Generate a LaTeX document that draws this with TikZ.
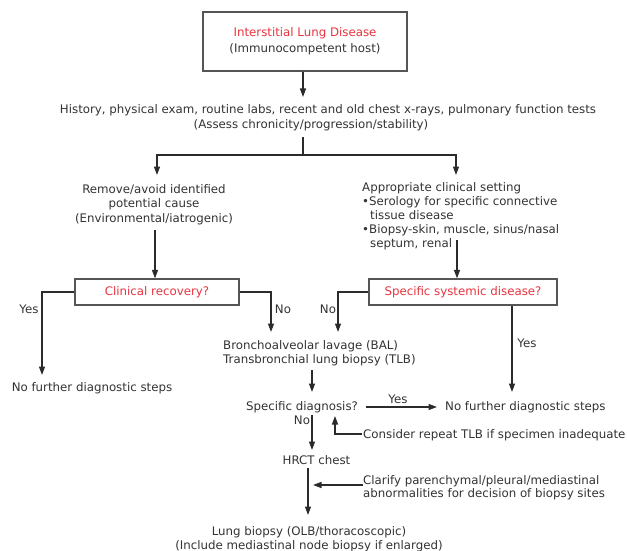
\documentclass[tikz,border=0pt]{standalone}
\usepackage{fontspec}
\setmainfont{DejaVu Sans}
\usetikzlibrary{arrows.meta}
\definecolor{redt}{HTML}{E8343F}
\definecolor{txtc}{HTML}{333333}
\definecolor{lnc}{HTML}{2B2B2B}
\definecolor{bxc}{HTML}{555555}
\begin{document}
\begin{tikzpicture}[x=1pt,y=-1pt,
  tx/.style={font=\fontsize{11.8}{14.5}\selectfont, text=txtc, inner sep=0pt, align=center},
  boxn/.style={tx, draw=bxc, line width=1.3pt},
  arr/.style={draw=lnc, line width=1.3pt, -{Triangle[length=8.5pt,width=6pt]}},
  plain/.style={draw=lnc, line width=1.3pt}]
\useasboundingbox[fill=white] (0,0) rectangle (627,551);

% nodes
\node[boxn, minimum width=204pt, minimum height=59pt, font=\fontsize{11.8}{16}\selectfont] (top) at (305,41.5)
  {{\color{redt}Interstitial Lung Disease}\\(Immunocompetent host)};
\node[tx] (hist) at (328,117.5)
  {History, physical exam, routine labs, recent and old chest x-rays, pulmonary function tests\\(Assess chronicity/progression/stability)\hspace*{34pt}};
\node[tx] (remove) at (154,204.5)
  {Remove/avoid identified\\potential cause\\(Environmental/iatrogenic)};
\node[tx, align=left, anchor=west, font=\fontsize{11.8}{14}\selectfont] (approp) at (362,216)
  {Appropriate clinical setting\\•Serology for specific connective\\\hspace*{8pt}tissue disease\\•Biopsy-skin, muscle, sinus/nasal\\\hspace*{8pt}septum, renal};
\node[boxn, minimum width=164pt, minimum height=26pt, text=redt] (recov) at (157,292) {Clinical recovery?};
\node[boxn, minimum width=188pt, minimum height=26pt, text=redt] (sysdis) at (463,292) {Specific systemic disease?};
\node[tx] (nf1) at (92,388) {No further diagnostic steps};
\node[tx, align=left, anchor=west] (bal) at (223,353)
  {Bronchoalveolar lavage (BAL)\\Transbronchial lung biopsy (TLB)};
\node[tx, anchor=west] (specdx) at (246,407) {Specific diagnosis?};
\node[tx, anchor=west] (nf2) at (445,407) {No further diagnostic steps};
\node[tx, anchor=west] (consider) at (363,435) {Consider repeat TLB if specimen inadequate};
\node[tx] (hrct) at (316.5,460) {HRCT chest};
\node[tx, align=left, anchor=west, font=\fontsize{11.8}{13.5}\selectfont] (clarify) at (363,487.5)
  {Clarify parenchymal/pleural/mediastinal\\abnormalities for decision of biopsy sites};
\node[tx] (lungbx) at (309,539)
  {Lung biopsy (OLB/thoracoscopic)\\(Include mediastinal node biopsy if enlarged)};

% labels
\node[tx] (lyes1) at (29,309) {Yes};
\node[tx] (lno1) at (283,309) {No};
\node[tx] (lno2) at (328,309) {No};
\node[tx] (lyes2) at (527,343) {Yes};
\node[tx] (lyes3) at (398,399) {Yes};
\node[tx] (lno3) at (302,420) {No};

% coordinates
\coordinate (t1) at (303,97);
\coordinate (s0) at (303,137);
\coordinate (s1) at (303,155);
\coordinate (lb) at (157,175);
\coordinate (rb) at (456,175);
\coordinate (r0) at (155,230);
\coordinate (a0) at (457,240);
\coordinate (y1) at (42,375);
\coordinate (n1) at (271,332);
\coordinate (n2) at (338,332);
\coordinate (y2) at (512,392);
\coordinate (b0) at (312,370);
\coordinate (b1) at (312,392);
\coordinate (d0) at (312,415);
\coordinate (d1) at (312,450);
\coordinate (c0) at (362,434);
\coordinate (c1) at (335,416);
\coordinate (h0) at (308,468);
\coordinate (h1) at (308,515);
\coordinate (k0) at (363,485);
\coordinate (k1) at (313,485);

% connectors
\draw[arr] (top.south -| t1) -- (t1);
\draw[plain] (s0) -- (s1);
\draw[arr] (s1) -| (lb);
\draw[arr] (s1) -| (rb);
\draw[arr] (r0) -- (r0 |- recov.north);
\draw[arr] (a0) -- (a0 |- sysdis.north);
\draw[arr] (recov.west) -| (y1);
\draw[arr] (recov.east) -| (n1);
\draw[arr] (sysdis.west) -| (n2);
\draw[arr] (sysdis.south -| y2) -- (y2);
\draw[arr] (b0) -- (b1);
\draw[arr] ([xshift=8pt]specdx.east) -- ([xshift=-8pt]nf2.west);
\draw[arr] (d0) -- (d1);
\draw[arr] (c0) -| (c1);
\draw[arr] (h0) -- (h1);
\draw[arr] (k0) -- (k1);
\end{tikzpicture}
\end{document}
